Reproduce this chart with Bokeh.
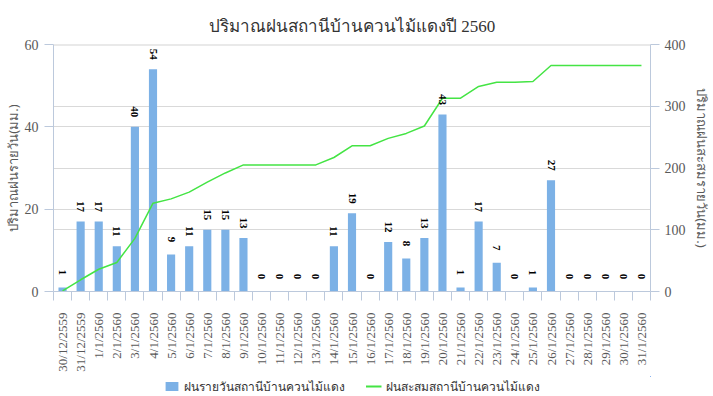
import math
from bokeh.plotting import figure
from bokeh.layouts import column
from bokeh.models import (ColumnDataSource, Range1d, LinearAxis, FixedTicker,
                          LabelSet, Legend, LegendItem, Span)
from bokeh.embed import file_html
from bokeh.resources import INLINE

# ---- data ----
dates = ["30/12/2559", "31/12/2559", "1/1/2560", "2/1/2560", "3/1/2560", "4/1/2560",
         "5/1/2560", "6/1/2560", "7/1/2560", "8/1/2560", "9/1/2560", "10/1/2560",
         "11/1/2560", "12/1/2560", "13/1/2560", "14/1/2560", "15/1/2560", "16/1/2560",
         "17/1/2560", "18/1/2560", "19/1/2560", "20/1/2560", "21/1/2560", "22/1/2560",
         "23/1/2560", "24/1/2560", "25/1/2560", "26/1/2560", "27/1/2560", "28/1/2560",
         "29/1/2560", "30/1/2560", "31/1/2560"]
daily = [1, 17, 17, 11, 40, 54, 9, 11, 15, 15, 13, 0, 0, 0, 0, 11, 19, 0, 12, 8, 13,
         43, 1, 17, 7, 0, 1, 27, 0, 0, 0, 0, 0]
cumulative = [1, 19, 36, 47, 86, 143, 150, 161, 177, 192, 205, 205, 205, 205, 205, 217,
              236, 236, 248, 256, 268, 313, 313, 332, 339, 339, 340, 366, 366, 366, 366,
              366, 366]
left_ticks = [0, 20, 40, 60]
right_ticks = [0, 100, 200, 300, 400]

title_text = "ปริมาณฝนสถานีบ้านควนไม้แดงปี 2560"
left_label = "ปริมาณฝนรายวัน(มม.)"
right_label = "ปริมาณฝนสะสมรายวัน(มม.)"
bar_name = "ฝนรายวันสถานีบ้านควนไม้แดง"
line_name = "ฝนสะสมสถานีบ้านควนไม้แดง"

# ---- styling ----
AXIS_COL = "#bcc9dc"
TXT_COL = "#595959"
GRID_COL = "#d9d9d9"
BAR_COL = "#7cb1e6"
LINE_COL = "#44e444"
SERIF = "Liberation Serif"
SANS = "Noto Sans"

n = len(dates)
xs = [i + 0.5 for i in range(n)]
lmax = left_ticks[-1]
rmax = right_ticks[-1]
grid_ticks = sorted(set(left_ticks) | set(t * lmax / rmax for t in right_ticks))

src = ColumnDataSource(dict(x=xs, daily=daily, cum=cumulative,
                            label=[str(v) for v in daily]))

p = figure(width=713, height=376, x_range=Range1d(0, n), y_range=Range1d(0, lmax),
           output_backend="svg", toolbar_location=None,
           min_border_left=52, min_border_right=61, min_border_top=44,
           min_border_bottom=85)
p.extra_y_ranges = {"right": Range1d(0, rmax)}
p.outline_line_color = None
p.background_fill_color = "white"

p.title.text = title_text
p.title.align = "center"
p.title.offset = 4
p.title.text_font = SERIF
p.title.text_font_size = "17px"
p.title.text_font_style = "normal"
p.title.text_color = "#333333"
p.title.standoff = 17

# grids
p.xgrid.visible = False
p.ygrid.ticker = FixedTicker(ticks=grid_ticks)
p.ygrid.grid_line_color = GRID_COL
p.ygrid.grid_line_width = 1
p.add_layout(Span(location=lmax, dimension="width", line_color="#d4d4d4", line_width=2))

# bars and line
bars = p.vbar(x="x", top="daily", width=0.45, source=src, fill_color=BAR_COL,
              line_color=None)
line = p.line(x="x", y="cum", source=src, y_range_name="right", line_color=LINE_COL,
              line_width=1.5)

labels = LabelSet(x="x", y="daily", text="label", source=src, angle=-math.pi / 2,
                  text_align="center", text_baseline="middle", y_offset=15,
                  text_font=SERIF, text_font_size="11px", text_font_style="bold",
                  text_color="black")
p.add_layout(labels)

# x axis
xa = p.xaxis[0]
xa.ticker = FixedTicker(ticks=xs, minor_ticks=list(range(n + 1)))
xa.major_label_overrides = {x: d for x, d in zip(xs, dates)}
xa.major_label_orientation = math.pi / 2
xa.major_tick_in = 0
xa.major_tick_out = 0
xa.minor_tick_in = 0
xa.minor_tick_out = 9
xa.minor_tick_line_color = AXIS_COL
xa.axis_line_color = AXIS_COL
xa.major_label_standoff = 12
xa.major_label_text_font = SERIF
xa.major_label_text_font_size = "13px"
xa.major_label_text_color = TXT_COL

# left axis
ya = p.yaxis[0]
ya.ticker = FixedTicker(ticks=left_ticks)
ya.axis_label = left_label
ya.axis_label_text_font = SANS
ya.axis_label_text_font_size = "13px"
ya.axis_label_text_font_style = "normal"
ya.axis_label_text_color = TXT_COL
ya.axis_label_standoff = 0
ya.major_tick_in = 0
ya.major_tick_out = 9
ya.major_tick_line_color = AXIS_COL
ya.minor_tick_line_color = None
ya.axis_line_color = AXIS_COL
ya.major_label_standoff = 6
ya.major_label_text_font = SERIF
ya.major_label_text_font_size = "14px"
ya.major_label_text_color = TXT_COL

# right axis
ra = LinearAxis(y_range_name="right", ticker=FixedTicker(ticks=right_ticks))
ra.axis_label = right_label
ra.axis_label_text_font = SANS
ra.axis_label_text_font_size = "13px"
ra.axis_label_text_font_style = "normal"
ra.axis_label_text_color = TXT_COL
ra.axis_label_standoff = 4
ra.major_tick_in = 0
ra.major_tick_out = 9
ra.major_tick_line_color = AXIS_COL
ra.minor_tick_line_color = None
ra.axis_line_color = AXIS_COL
ra.major_label_standoff = 5
ra.major_label_text_font = SERIF
ra.major_label_text_font_size = "14px"
ra.major_label_text_color = TXT_COL
p.add_layout(ra, "right")

# legend strip below the chart (proxy renderers share the data but lie outside its view)
lf = figure(width=713, height=20, x_range=Range1d(-2, -1), y_range=Range1d(-2, -1),
            output_backend="svg", toolbar_location=None, min_border=0,
            x_axis_location=None, y_axis_location=None)
lf.outline_line_color = None
lf.xgrid.visible = False
lf.ygrid.visible = False
lbar = lf.vbar(x="x", top="daily", width=0.45, source=src, fill_color=BAR_COL,
               line_color=None)
lline = lf.line(x="x", y="cum", source=src, line_color=LINE_COL, line_width=2)
legend = Legend(items=[LegendItem(label=bar_name, renderers=[lbar]),
                       LegendItem(label=line_name, renderers=[lline])],
                orientation="horizontal", location="center",
                background_fill_alpha=0, border_line_color=None,
                padding=0, margin=0, spacing=20, label_standoff=5,
                glyph_width=16, glyph_height=11, label_height=14,
                label_text_font=SANS, label_text_font_size="12px",
                label_text_color="#333333")
lf.add_layout(legend)

layout = column(p, lf, spacing=0)
open("out.html", "w").write(file_html(layout, INLINE))
